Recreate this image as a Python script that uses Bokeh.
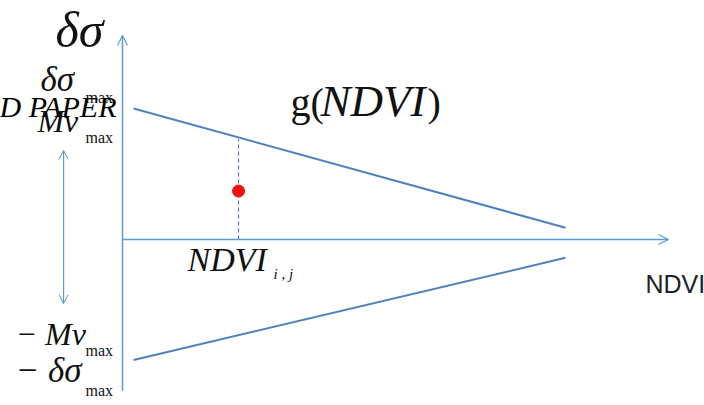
from bokeh.plotting import figure
from bokeh.models import Arrow, OpenHead, ColumnDataSource
from bokeh.core.properties import value
from bokeh.embed import file_html
from bokeh.resources import INLINE

# ---- data (schematic values, NDVI normalised 0..1, δσ normalised to δσ_max) ----
ndvi_line = [0.025, 1.0]          # NDVI extent of the envelope lines
g_upper = [1.0, 0.09]             # g(NDVI), upper envelope
g_lower = [-0.92, -0.14]          # lower envelope
ndvi_ij = [0.262]                 # NDVI_{i,j}
ndvi_ij_top = [0.765]             # g(NDVI_{i,j})
point_val = [0.37]                # observed δσ at NDVI_{i,j}
mv_range = [0.68, -0.49]          # ±Mv_max double arrow extent
y_axis_ext = [-1.155, 1.557]
x_axis_ext = [0.0, 1.2325]
mv_arrow_x = -0.133

BLUE = "#5b9bd5"
LINE_BLUE = "#4f81bd"
SERIF = value("Liberation Serif")

p = figure(width=704, height=405, x_range=(-0.2754, 1.3138), y_range=(-1.2672, 1.8244),
           x_axis_type=None, y_axis_type=None, toolbar_location=None,
           output_backend="svg", min_border=0, outline_line_color=None)
p.grid.visible = False
p.background_fill_color = "white"
p.border_fill_color = "white"

# axes as arrows
p.add_layout(Arrow(end=OpenHead(size=10, line_color=BLUE, line_width=1.2),
                   x_start=0, y_start=y_axis_ext[0], x_end=0, y_end=y_axis_ext[1],
                   line_color=BLUE, line_width=1.5))
p.add_layout(Arrow(end=OpenHead(size=10, line_color=BLUE, line_width=1.2),
                   x_start=x_axis_ext[0], y_start=0, x_end=x_axis_ext[1], y_end=0,
                   line_color=BLUE, line_width=1.5))
# double arrow ±Mv_max
p.add_layout(Arrow(start=OpenHead(size=9, line_color=BLUE, line_width=1),
                   end=OpenHead(size=9, line_color=BLUE, line_width=1),
                   x_start=mv_arrow_x, y_start=mv_range[0], x_end=mv_arrow_x, y_end=mv_range[1],
                   line_color=BLUE, line_width=1.2))

# envelope lines
p.line(ndvi_line, g_upper, line_color=LINE_BLUE, line_width=2)
p.line(ndvi_line, g_lower, line_color=LINE_BLUE, line_width=2)

# dashed guide
p.segment(x0=ndvi_ij, y0=[0], x1=ndvi_ij, y1=ndvi_ij_top, line_color="#4a5fc8",
          line_width=1, line_dash="4 3")
# observed point
p.scatter(ndvi_ij, point_val, size=12, fill_color="#ee1111", line_color="#ee1111")

# labels
labels = dict(
    x=[-0.151, -0.185, -0.0835, -0.192, -0.0835, 0.1467, -0.2415, -0.0835, -0.2415, -0.0835],
    y=[1.603, 1.218, 1.082, 0.905, 0.777, -0.151, -0.721, -0.849, -1.003, -1.155],
    t=["δσ", "δσ", "max", "Mv", "max", "NDVI", "− Mv", "max", "− δσ", "max"],
    s=["50px", "35px", "16px", "32px", "16px", "34px", "32px", "16px", "35px", "16px"],
    st=["italic", "italic", "normal", "italic", "normal", "italic", "italic", "normal", "italic", "normal"],
)
src = ColumnDataSource(labels)
p.text(x="x", y="y", text="t", text_font_size="s", text_font_style="st", source=src,
       text_font=SERIF, text_color="#111111", text_baseline="alphabetic", text_align="left")

# g(NDVI): roman g and parentheses, italic NDVI
p.text(x=[0.3792, 0.6885], y=[1.042, 1.042], text=["g(", ")"], text_font=SERIF,
       text_font_size="40px", text_color="#111111", text_baseline="alphabetic")
p.text(x=[0.4470], y=[1.055], text=["NDVI"],
       text_font=SERIF, text_font_size="45px", text_font_style="italic",
       text_color="#111111", text_baseline="alphabetic")

p.text(x=[0.3409], y=[-0.264], text=["i , j"], text_font=SERIF, text_font_size="15px",
       text_font_style="italic", text_color="#111111", text_baseline="alphabetic")
p.text(x=[-0.0135], y=[1.013], text=["D PAPER"], text_font=SERIF, text_font_size="30px",
       text_font_style="italic", text_color="black", text_baseline="alphabetic", text_align="right")
p.text(x=[1.1805], y=[-0.34], text=["NDVI"], text_font=value("Liberation Sans"),
       text_font_size="25px", text_color="#222222", text_baseline="alphabetic")

open("out.html", "w").write(file_html(p, INLINE))
